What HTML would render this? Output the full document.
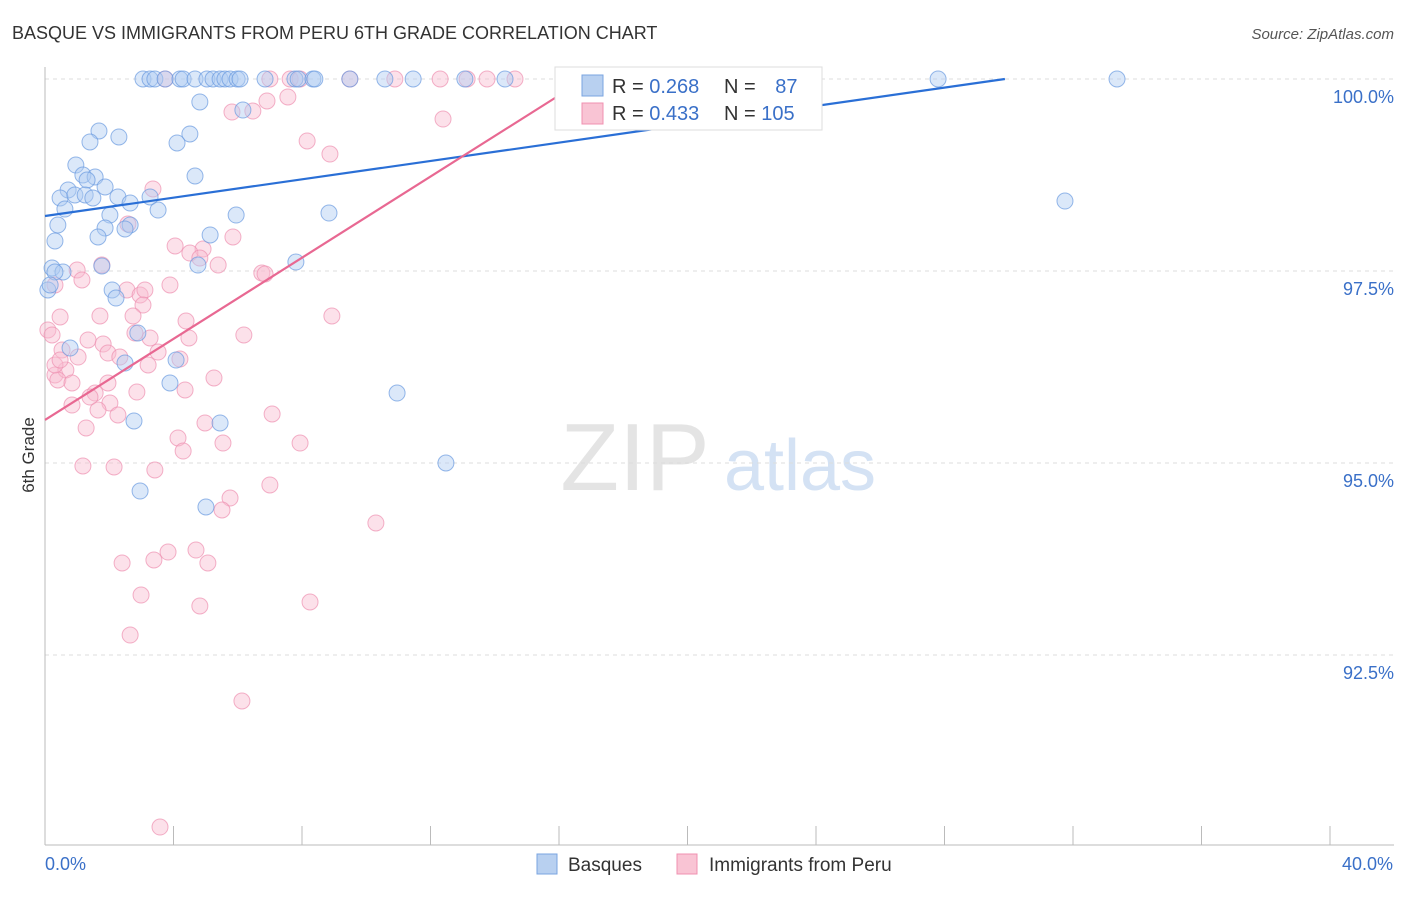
<!DOCTYPE html>
<html><head><meta charset="utf-8"><style>
body{margin:0;background:#fff;font-family:"Liberation Sans",sans-serif;}
svg text{font-family:"Liberation Sans",sans-serif;}
</style></head><body>
<svg id="chart" width="1406" height="892" xmlns="http://www.w3.org/2000/svg">
<text x="12" y="39" font-size="18" fill="#333">BASQUE VS IMMIGRANTS FROM PERU 6TH GRADE CORRELATION CHART</text>
<text x="1394" y="39" font-size="15" fill="#555" text-anchor="end" font-style="italic">Source: ZipAtlas.com</text>
<text x="34" y="455" font-size="17" fill="#333" transform="rotate(-90 34 455)" text-anchor="middle">6th Grade</text>
<g><text x="635" y="490" font-size="96" fill="#e4e4e4" font-family="Liberation Serif,serif" text-anchor="middle">ZIP</text><text x="800" y="490" font-size="72" fill="#d4e2f4" text-anchor="middle">atlas</text></g>
<g id="grid"></g><g id="axes"></g><g id="marks"></g><g id="trends"></g>
<g>
<rect x="555" y="67" width="267" height="63" fill="#fff" stroke="#ddd"/>
<rect x="582" y="75" width="21" height="21" fill="#b8d0f0" stroke="#7aa4e0"/>
<rect x="582" y="103" width="21" height="21" fill="#f9c4d4" stroke="#f090b0"/>
<text x="612" y="93" font-size="20" fill="#333">R = <tspan fill="#3a70c8">0.268</tspan></text>
<text x="724" y="93" font-size="20" fill="#333">N = <tspan fill="#3a70c8" dx="14">87</tspan></text>
<text x="612" y="120" font-size="20" fill="#333">R = <tspan fill="#3a70c8">0.433</tspan></text>
<text x="724" y="120" font-size="20" fill="#333">N = <tspan fill="#3a70c8">105</tspan></text>
</g>
<g>
<rect x="537" y="854" width="20" height="20" fill="#b8d0f0" stroke="#7aa4e0"/>
<text x="568" y="871" font-size="19" fill="#333">Basques</text>
<rect x="677" y="854" width="20" height="20" fill="#f9c4d4" stroke="#f090b0"/>
<text x="709" y="871" font-size="19" fill="#333">Immigrants from Peru</text>
</g>
</svg>
<script>
const yTicks=[100,97.5,95,92.5];
const yTickLabels=["100.0%","97.5%","95.0%","92.5%"];
const xTickCount=[0,4,8,12,16,20,24,28,32,36,40];
const xEndLabels=["0.0%","40.0%"];
const bluePx=[[143,79],[150,79],[155,79],[165,79],[180,79],[183,79],[195,79],[207,79],[213,79],[220,79],[225,79],[230,79],[237,79],[240,79],[265,79],[295,79],[298,79],[313,79],[315,79],[350,79],[385,79],[413,79],[465,79],[505,79],[712,79],[938,79],[1117,79],[200,102],[243,110],[99,131],[190,134],[119,137],[90,142],[177,143],[76,165],[195,176],[83,175],[95,177],[87,180],[105,187],[68,190],[60,198],[75,195],[85,195],[93,198],[118,197],[150,197],[130,203],[65,209],[158,210],[236,215],[110,215],[329,213],[1065,201],[58,225],[105,228],[130,225],[125,229],[98,237],[210,235],[55,241],[52,268],[63,272],[102,266],[198,265],[296,262],[48,290],[112,290],[116,298],[138,333],[70,348],[125,363],[176,360],[170,383],[397,393],[134,421],[220,423],[446,463],[140,491],[206,507],[55,272],[50,285]];
const pinkPx=[[165,79],[270,79],[290,79],[300,79],[350,79],[395,79],[440,79],[467,79],[487,79],[515,79],[570,79],[232,112],[253,111],[267,101],[288,97],[443,119],[307,141],[330,154],[153,189],[128,224],[233,237],[175,246],[203,249],[190,253],[200,258],[218,265],[262,273],[265,274],[102,265],[77,270],[82,280],[55,285],[170,285],[127,290],[140,295],[145,290],[143,305],[60,317],[100,316],[133,316],[186,321],[332,316],[48,330],[52,335],[135,333],[150,338],[88,340],[103,344],[189,338],[244,335],[62,350],[108,353],[158,352],[180,359],[120,357],[148,365],[78,357],[55,375],[66,370],[58,380],[72,383],[108,383],[214,378],[185,390],[95,393],[137,392],[90,397],[72,405],[110,403],[98,410],[118,415],[272,414],[205,423],[86,428],[178,438],[223,443],[300,443],[183,451],[83,466],[114,467],[155,470],[270,485],[230,498],[222,510],[376,523],[196,550],[168,552],[154,560],[122,563],[208,563],[141,595],[200,606],[310,602],[130,635],[242,701],[160,827],[55,365],[60,360]];
// data arrays (x %, y %) derived from reading the picture
const blueX=bluePx.map(p=>+((p[0]-45)/128.5*4).toFixed(2));
const blueY=bluePx.map(p=>+(100-(p[1]-79)/192*2.5).toFixed(3));
const pinkX=pinkPx.map(p=>+((p[0]-45)/128.5*4).toFixed(2));
const pinkY=pinkPx.map(p=>+(100-(p[1]-79)/192*2.5).toFixed(3));
const blueTrend=[0,98.216,1.784/29.88];
const pinkTrend=[0,95.56,4.44/16.81];

const X=v=>45+v/4*128.5, Y=v=>79+(100-v)/2.5*192;
const NS="http://www.w3.org/2000/svg";
function mk(tag,attrs,parent){const e=document.createElementNS(NS,tag);for(const k in attrs)e.setAttribute(k,attrs[k]);document.getElementById(parent).appendChild(e);return e;}
yTicks.forEach((t,i)=>{
 const l=mk('line',{x1:45,x2:1394,y1:Y(t),y2:Y(t),stroke:'#ddd','stroke-dasharray':'4,4'},'grid');
 
 
 const tx=mk('text',{x:1394,y:Y(t)+24,'font-size':18,fill:'#3a70c8','text-anchor':'end'},'grid');
 tx.textContent=yTickLabels[i];
 
 
});
const ax=mk('line',{x1:45,x2:45,y1:67,y2:845,stroke:'#bbb'},'axes');


const bx=mk('line',{x1:45,x2:1394,y1:845,y2:845,stroke:'#bbb'},'axes');


xTickCount.forEach(t=>{
 const l=mk('line',{x1:X(t),x2:X(t),y1:826,y2:845,stroke:'#bbb'},'axes');
 
 
});
[[0,'start'],[40,'end']].forEach((d,i)=>{
 const tx=mk('text',{x:X(d[0])+(i?63:0),y:870,'font-size':18,fill:'#3a70c8','text-anchor':d[1]},'axes');
 tx.textContent=xEndLabels[i];
 
 
});
function pts(xs,ys,fill,stroke,name){xs.forEach((x,i)=>{
 const c=mk('circle',{cx:X(x),cy:Y(ys[i]),r:8,fill:fill,'fill-opacity':0.45,stroke:stroke,'stroke-opacity':0.7},'marks');
 
 
});}
pts(pinkX,pinkY,'#f8bcd0','#ee90b0','peru-point');
pts(blueX,blueY,'#b0cdf2','#6a9ae0','basque-point');
function trend(t,xEnd,color,name){
 const l=mk('line',{x1:X(t[0]),y1:Y(t[1]),x2:X(xEnd),y2:Y(Math.min(100,t[1]+t[2]*xEnd)),stroke:color,'stroke-width':2.2},'trends');
 
 
}
trend(blueTrend,29.88,'#2a6fd6','basque-trendline');
trend(pinkTrend,16.81,'#e86892','peru-trendline');
</script>
</body></html>
